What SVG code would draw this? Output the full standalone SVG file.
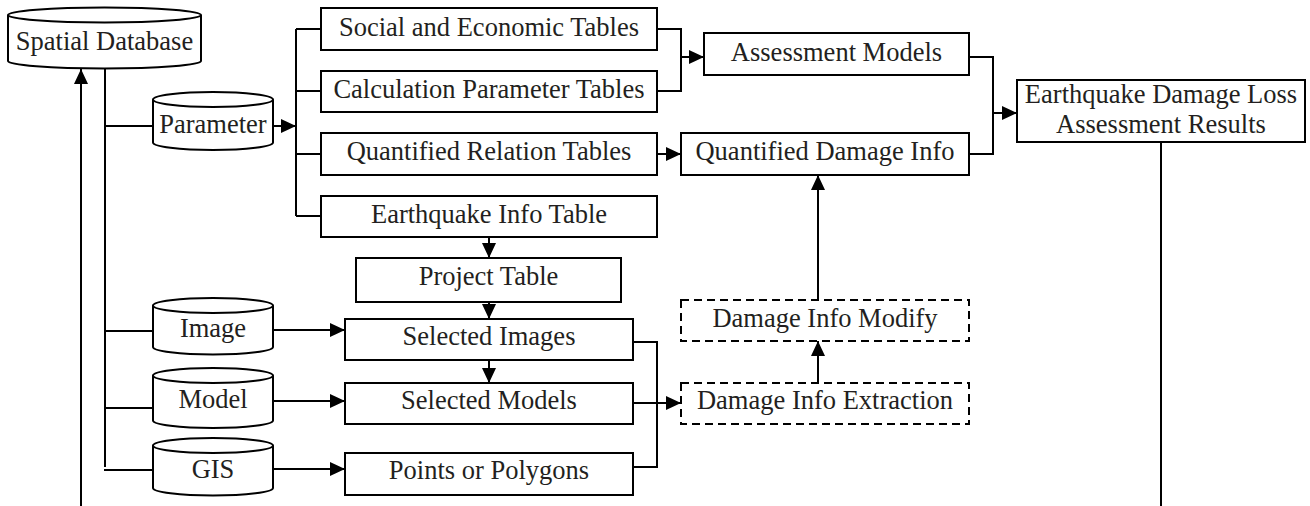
<svg xmlns="http://www.w3.org/2000/svg" width="1310" height="506" viewBox="0 0 1310 506">
  <style>
    .box { fill: #ffffff; stroke: #000000; stroke-width: 2; }
    .dash { fill: #ffffff; stroke: #000000; stroke-width: 2; stroke-dasharray: 8 5; }
    .cyl { fill: #ffffff; stroke: #000000; stroke-width: 2; }
    .wire { fill: none; stroke: #000000; stroke-width: 2; }
    .arr { fill: none; stroke: #000000; stroke-width: 2; marker-end: url(#head); }
    text { font-family: "Liberation Serif", "Times New Roman", serif; font-size: 26.5px; fill: #231f20; text-anchor: middle; }
  </style>
  <defs>
    <marker id="head" markerUnits="userSpaceOnUse" markerWidth="15" markerHeight="14" refX="15" refY="7" orient="auto">
      <path d="M0,0 L15,7 L0,14 Z" fill="#000000"/>
    </marker>
  </defs>

  <!-- connectors -->
  <g id="connectors">
    <!-- results feed back up to the spatial database -->
    <path class="arr" d="M81,506 V69"/>
    <!-- trunk out of the spatial database -->
    <path class="wire" d="M105,68 V467"/>
    <path class="wire" d="M105,126 H153"/>
    <path class="wire" d="M105,331 H153"/>
    <path class="wire" d="M105,408 H153"/>
    <path class="wire" d="M104,470 H153"/>
    <!-- parameter bus -->
    <path class="arr" d="M273,126 H296"/>
    <path class="wire" d="M296,29 V216"/>
    <path class="wire" d="M296,29 H321 M296,91 H321 M296,154 H321 M296,216 H321"/>
    <!-- tables to assessment models -->
    <path class="wire" d="M657,29 H681 V91 H657"/>
    <path class="arr" d="M681,57 H704"/>
    <path class="arr" d="M657,154 H681"/>
    <!-- models and damage info to results -->
    <path class="wire" d="M969,57 H993 V154 H969"/>
    <path class="arr" d="M993,113 H1017"/>
    <path class="wire" d="M1161,142 V506"/>
    <!-- project chain -->
    <path class="arr" d="M489,237 V258"/>
    <path class="arr" d="M489,302 V319"/>
    <path class="arr" d="M489,360 V383"/>
    <!-- data sources to selections -->
    <path class="arr" d="M273,330 H345"/>
    <path class="arr" d="M273,401 H345"/>
    <path class="arr" d="M273,469 H345"/>
    <!-- selections to extraction -->
    <path class="wire" d="M633,342 H657 V467 H633"/>
    <path class="arr" d="M633,403 H681"/>
    <path class="arr" d="M818,383 V341"/>
    <path class="arr" d="M818,300 V175"/>
  </g>

  <!-- databases -->
  <g id="spatial-database">
    <path class="cyl" d="M8,15 V61 A96.5,7.5 0 0 0 201,61 V15"/>
    <ellipse class="cyl" cx="104.5" cy="15" rx="96.5" ry="7.5"/>
    <text x="104.5" y="50">Spatial Database</text>
  </g>
  <g id="parameter">
    <path class="cyl" d="M153,99.5 V142.5 A60,7.5 0 0 0 273,142.5 V99.5"/>
    <ellipse class="cyl" cx="213" cy="99.5" rx="60" ry="7.5"/>
    <text x="213" y="133">Parameter</text>
  </g>
  <g id="image">
    <path class="cyl" d="M153,305.5 V347 A60,7.5 0 0 0 273,347 V305.5"/>
    <ellipse class="cyl" cx="213" cy="305.5" rx="60" ry="7.5"/>
    <text x="213" y="337">Image</text>
  </g>
  <g id="model">
    <path class="cyl" d="M153,375.5 V420.5 A60,7.5 0 0 0 273,420.5 V375.5"/>
    <ellipse class="cyl" cx="213" cy="375.5" rx="60" ry="7.5"/>
    <text x="213" y="408">Model</text>
  </g>
  <g id="gis">
    <path class="cyl" d="M153,445.5 V488 A60,7.5 0 0 0 273,488 V445.5"/>
    <ellipse class="cyl" cx="213" cy="445.5" rx="60" ry="7.5"/>
    <text x="213" y="478">GIS</text>
  </g>

  <!-- tables -->
  <g id="social-economic-tables">
    <rect class="box" x="321" y="8" width="336" height="42"/>
    <text x="489" y="36">Social and Economic Tables</text>
  </g>
  <g id="calculation-parameter-tables">
    <rect class="box" x="321" y="71" width="336" height="41"/>
    <text x="489" y="98">Calculation Parameter Tables</text>
  </g>
  <g id="quantified-relation-tables">
    <rect class="box" x="321" y="133" width="336" height="42"/>
    <text x="489" y="160">Quantified Relation Tables</text>
  </g>
  <g id="earthquake-info-table">
    <rect class="box" x="321" y="196" width="336" height="41"/>
    <text x="489" y="223">Earthquake Info Table</text>
  </g>
  <g id="assessment-models">
    <rect class="box" x="704" y="33" width="265" height="42"/>
    <text x="836.5" y="61">Assessment Models</text>
  </g>
  <g id="quantified-damage-info">
    <rect class="box" x="681" y="133" width="288" height="42"/>
    <text x="825" y="160">Quantified Damage Info</text>
  </g>
  <g id="loss-assessment-results">
    <rect class="box" x="1017" y="80" width="288" height="62"/>
    <text x="1161" y="103">Earthquake Damage Loss</text>
    <text x="1161" y="133">Assessment Results</text>
  </g>
  <g id="project-table">
    <rect class="box" x="356" y="258" width="265" height="44"/>
    <text x="488.5" y="285">Project Table</text>
  </g>
  <g id="selected-images">
    <rect class="box" x="345" y="319" width="288" height="41"/>
    <text x="489" y="345">Selected Images</text>
  </g>
  <g id="selected-models">
    <rect class="box" x="345" y="383" width="288" height="41"/>
    <text x="489" y="409">Selected Models</text>
  </g>
  <g id="points-or-polygons">
    <rect class="box" x="345" y="453" width="288" height="42"/>
    <text x="489" y="479">Points or Polygons</text>
  </g>
  <g id="damage-info-modify">
    <rect class="dash" x="681" y="300" width="288" height="41"/>
    <text x="825" y="327">Damage Info Modify</text>
  </g>
  <g id="damage-info-extraction">
    <rect class="dash" x="681" y="383" width="288" height="41"/>
    <text x="825" y="409">Damage Info Extraction</text>
  </g>
</svg>
